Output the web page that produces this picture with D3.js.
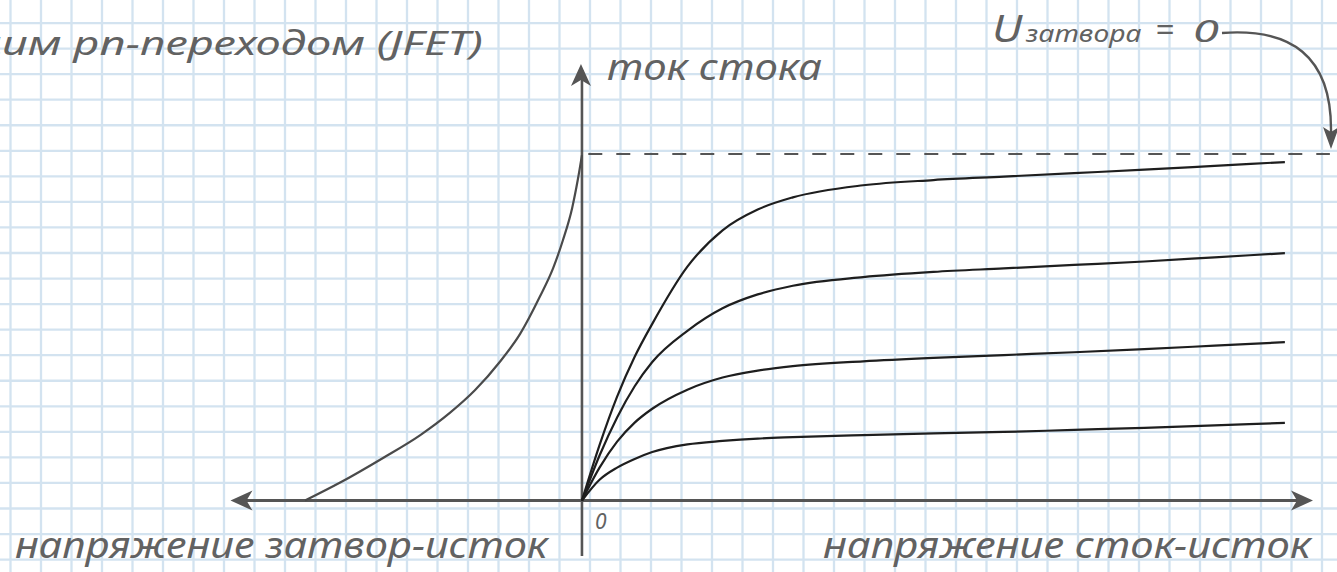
<!DOCTYPE html>
<html>
<head>
<meta charset="utf-8">
<script src="https://cdn.jsdelivr.net/npm/d3@7"></script>
<style>
  html, body { margin: 0; padding: 0; background: #fff; }
  svg { display: block; }
  text { font-family: "Noto Sans", sans-serif; font-style: italic; fill: #626262; }
</style>
</head>
<body>
<script>
// Output characteristics: drain current vs drain-source voltage for four gate voltages
const vds = [0, 0.25, 0.5, 0.75, 1, 1.5, 2, 2.5, 3, 4, 5, 6, 7, 8, 9, 10];
const idGate0 = [0, 1.6, 3.0, 4.15, 5.1, 6.75, 7.8, 8.4, 8.75, 9.1, 9.25, 9.35, 9.45, 9.55, 9.66, 9.77];
const idGate1 = [0, 1.3, 2.4, 3.3, 4.0, 4.9, 5.55, 5.95, 6.2, 6.45, 6.6, 6.7, 6.8, 6.9, 7.02, 7.14];
const idGate2 = [0, 0.95, 1.7, 2.25, 2.65, 3.2, 3.55, 3.75, 3.88, 4.02, 4.12, 4.2, 4.28, 4.37, 4.47, 4.57];
const idGate3 = [0, 0.6, 0.95, 1.2, 1.4, 1.62, 1.72, 1.79, 1.83, 1.89, 1.94, 1.98, 2.04, 2.1, 2.17, 2.24];

// Transfer characteristic: drain current vs gate-source voltage
const vgs = [-3.94, -3.44, -2.83, -2.30, -1.88, -1.52, -1.17, -0.88, -0.60, -0.41, -0.27, -0.14, -0.06, 0];
const idTransfer = [0, 0.52, 1.23, 1.89, 2.53, 3.19, 4.0, 4.81, 5.88, 6.71, 7.52, 8.44, 9.25, 9.97];

const idss = 10;          // saturation current at zero gate voltage
const axisX = [-5, 10.4]; // gate-source (left) / drain-source (right)
const axisY = [-1.6, 12.6];

const labels = {
  title: "Полевой транзистор с управляющим pn-переходом (JFET)",
  titleVisible: "им pn-переходом (JFET)",
  yAxis: "ток стока",
  gateU: "U",
  gateSub: "затвора",
  gateEq: "=",
  gateZero: "0",
  origin: "0",
  xLeft: "напряжение затвор-исток",
  xRight: "напряжение сток-исток"
};

const W = 1337, H = 572;
const svg = d3.select("body").append("svg").attr("width", W).attr("height", H);

// graph-paper background
const gridColor = "#d3e3f0";
const grid = svg.append("g");
d3.range(10.5, W + 1, 30.5).forEach(gx => {
  grid.append("line").attr("x1", gx).attr("x2", gx).attr("y1", 0).attr("y2", H)
    .attr("stroke", gridColor).attr("stroke-width", 2.3);
});
d3.range(-2.5, H + 1, 25.55).forEach(gy => {
  grid.append("line").attr("x1", 0).attr("x2", W).attr("y1", gy).attr("y2", gy)
    .attr("stroke", gridColor).attr("stroke-width", 2.3);
});

const x = d3.scaleLinear().domain(axisX).range([230.5, 1313]);
const y = d3.scaleLinear().domain(axisY).range([556, 64]);

const axisColor = "#555";

// axes
svg.append("line").attr("x1", x(axisX[0]) + 6).attr("x2", x(axisX[1]) - 6)
  .attr("y1", y(0)).attr("y2", y(0)).attr("stroke", axisColor).attr("stroke-width", 3);
svg.append("line").attr("x1", x(0)).attr("x2", x(0))
  .attr("y1", y(axisY[0])).attr("y2", y(axisY[1]) + 6).attr("stroke", axisColor).attr("stroke-width", 2.6);

function arrowHead(tx, ty, angle) {
  // notched arrow head pointing along angle (degrees), tip at (tx, ty)
  svg.append("path")
    .attr("d", "M0,0 L-22,-10 L-16,0 L-22,10 Z")
    .attr("transform", `translate(${tx},${ty}) rotate(${angle})`)
    .attr("fill", axisColor);
}
arrowHead(x(axisX[0]), y(0), 180);
arrowHead(x(axisX[1]), y(0), 0);
arrowHead(x(0) - 1, y(axisY[1]), -90);

// saturation level
svg.append("line").attr("x1", x(0.09)).attr("x2", x(10.64))
  .attr("y1", y(idss)).attr("y2", y(idss))
  .attr("stroke", "#555").attr("stroke-width", 2).attr("stroke-dasharray", "14,14");

// transfer characteristic
const line = d3.line().x(d => x(d[0])).y(d => y(d[1])).curve(d3.curveMonotoneX);
svg.append("path").datum(d3.zip(vgs, idTransfer))
  .attr("d", line).attr("fill", "none").attr("stroke", "#4a4a4a").attr("stroke-width", 2.2);

// output characteristics
[idGate0, idGate1, idGate2, idGate3].forEach(series => {
  svg.append("path").datum(d3.zip(vds, series))
    .attr("d", line).attr("fill", "none").attr("stroke", "#1e1e1e").attr("stroke-width", 2.2);
});

// text helpers
function fitted(str, x0, x1, baseline, size) {
  return svg.append("text").attr("x", x0).attr("y", baseline)
    .attr("font-size", size)
    .attr("textLength", x1 - x0).attr("lengthAdjust", "spacingAndGlyphs")
    .text(str);
}

// title: partly runs off the left edge
const probe = svg.append("text").attr("font-size", 32).text(labels.titleVisible);
const sx = 481 / probe.node().getComputedTextLength();
probe.remove();
svg.append("text").attr("font-size", 32).attr("text-anchor", "end")
  .attr("transform", `translate(483,55) scale(${sx},1)`)
  .text(labels.title);

fitted(labels.yAxis, 607, 822, 80, 36);

// gate voltage note: big U with a smaller subscript word, stretched to its width
const gate = svg.append("text").attr("x", 0).attr("y", 0);
gate.append("tspan").attr("font-size", 38).text(labels.gateU);
gate.append("tspan").attr("font-size", 24).attr("dx", 3).text(labels.gateSub);
const gsx = 146 / gate.node().getComputedTextLength();
gate.attr("transform", `translate(992,42) scale(${gsx},1)`);

fitted(labels.gateEq, 1155, 1174, 41, 32);
fitted(labels.gateZero, 1193, 1219, 42, 31);

// pointer from "U = 0" to the top curve level
svg.append("path")
  .attr("d", `M1222,33 C1290,28 1332,55 1331,${y(idss) - 22}`)
  .attr("fill", "none").attr("stroke", axisColor).attr("stroke-width", 2.4);
svg.append("path")
  .attr("d", "M0,0 L-22,-8 L-17,0 L-22,8 Z")
  .attr("transform", `translate(1331,${y(idss) - 5}) rotate(90)`)
  .attr("fill", axisColor);

svg.append("text").attr("x", x(0) + 13).attr("y", y(0) + 28).attr("font-size", 21).text(labels.origin);

fitted(labels.xLeft, 15, 548, 558, 37);
fitted(labels.xRight, 823, 1311, 558, 37);
</script>
</body>
</html>
